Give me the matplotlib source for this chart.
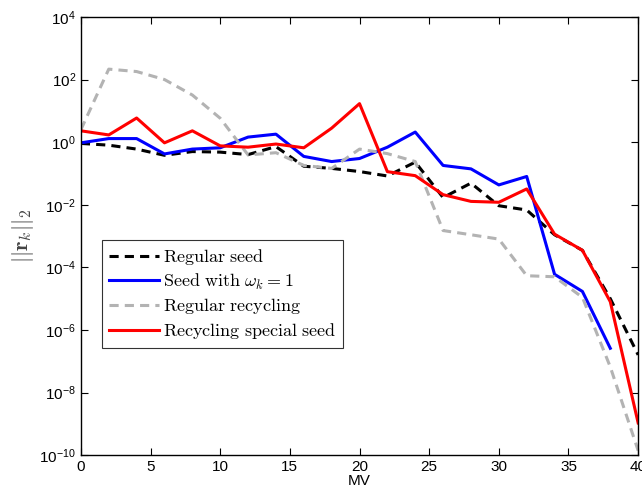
import numpy as np
import matplotlib.pyplot as plt

plt.rcParams['font.family'] = ['Liberation Sans', 'DejaVu Sans']
plt.rcParams['mathtext.fontset'] = 'cm'

# residual norms per matrix-vector product
mv = np.arange(0, 41, 2)

regular_seed = [0.91, 0.8, 0.6, 0.38, 0.5, 0.48, 0.4, 0.72, 0.17, 0.145, 0.115,
                0.083, 0.23, 0.017, 0.049, 0.0093, 0.0068, 1.1e-3, 3.5e-4, 1e-5, 1.6e-7]
seed_omega = [0.95, 1.3, 1.3, 0.42, 0.6, 0.66, 1.45, 1.8, 0.35, 0.24, 0.30,
              0.69, 2.1, 0.18, 0.14, 0.043, 0.08, 6e-5, 1.7e-5, 2.6e-7]
regular_recycling = [2.5, 215, 180, 100, 32, 5.8, 0.39, 0.46, 0.18, 0.145, 0.6,
                     0.43, 0.24, 1.5e-3, 1.1e-3, 8e-4, 5.4e-5, 5e-5, 1.1e-5, 6.6e-8, 1.4e-10]
recycling_special = [2.3, 1.7, 5.9, 0.95, 2.3, 0.76, 0.69, 0.87, 0.66, 2.8, 17,
                     0.114, 0.085, 0.021, 0.0128, 0.012, 0.032, 1.15e-3, 3.5e-4, 8e-6, 1.07e-9]

fig = plt.figure(figsize=(6.42, 4.98), dpi=100)
ax = fig.add_axes([0.126, 0.086, 0.868, 0.880])

lw = 2.2
ax.semilogy(mv, regular_seed, color='black', ls=(0, (3, 2)), lw=lw,
            label=r'$\mathrm{Regular\ seed}$')
ax.semilogy(mv[:len(seed_omega)], seed_omega, color='#0000ff', lw=lw,
            label=r'$\mathrm{Seed\ with\ }\omega_k=1$')
ax.semilogy(mv, regular_recycling, color='#b3b3b3', ls=(0, (3, 2)), lw=lw,
            label=r'$\mathrm{Regular\ recycling}$')
ax.semilogy(mv, recycling_special, color='#ff0000', lw=lw,
            label=r'$\mathrm{Recycling\ special\ seed}$')

ax.set_xlim(0, 40)
ax.set_ylim(1e-10, 1e4)
ax.set_xticks(range(0, 41, 5))
ax.set_yticks([10.0 ** e for e in range(-10, 5, 2)])
ax.yaxis.set_minor_locator(plt.NullLocator())
ax.tick_params(direction='in', top=True, right=True, labelsize=11, length=5, width=0.8)
for s in ax.spines.values():
    s.set_linewidth(1.0)

ax.set_xlabel('MV', fontsize=11, labelpad=0)
ax.set_ylabel(r'$||\mathbf{r}_k||_2$', fontsize=16, color='#444444', labelpad=2)

leg = ax.legend(loc='upper left', bbox_to_anchor=(0.037, 0.491), fontsize=13,
                frameon=True, fancybox=False, edgecolor='black', handlelength=2.8,
                handletextpad=0.2, borderaxespad=0, labelspacing=0.25,
                borderpad=0.4)
leg.get_frame().set_linewidth(0.8)

fig.savefig('out.png', dpi=100)
